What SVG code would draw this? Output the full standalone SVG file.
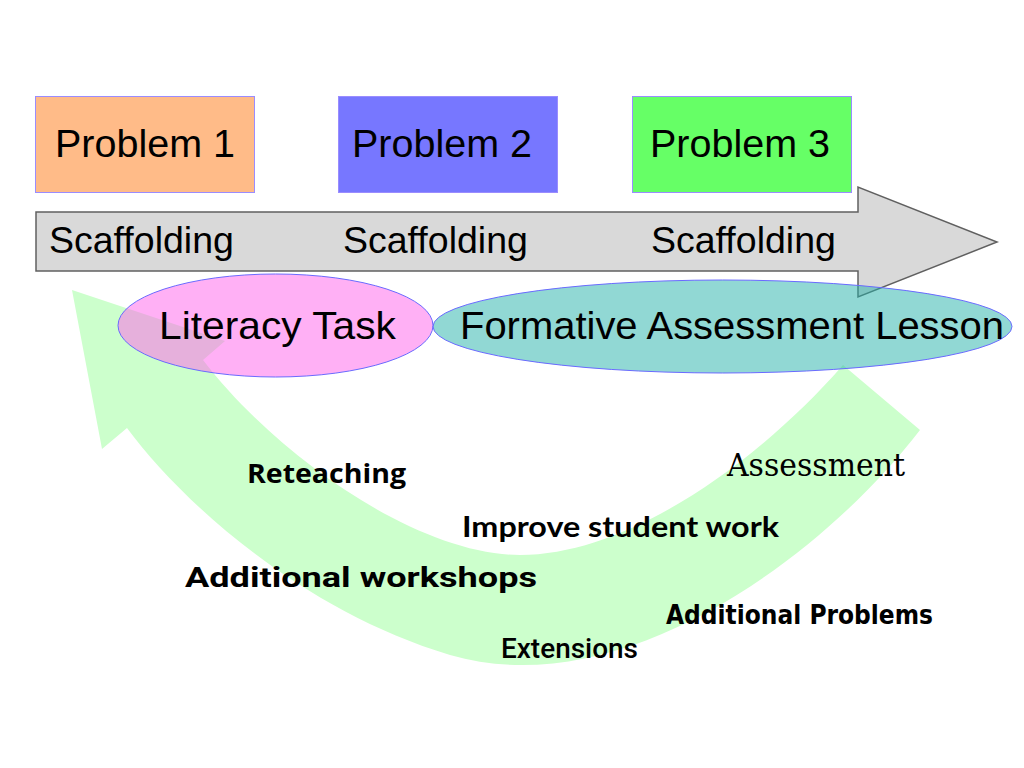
<svg xmlns="http://www.w3.org/2000/svg" width="1024" height="768" viewBox="0 0 1024 768">
<style>
.box{stroke:#9a8cff;stroke-width:1}
.arial{font-family:"Liberation Sans",Arial,sans-serif;fill:#000}
.big{font-size:39.5px}
.scaf{font-size:37.5px}
.ell{stroke:#6a6aff;stroke-width:1}
.lbl{fill:#000;font-weight:700}
</style>
<rect width="1024" height="768" fill="#ffffff"/>
<g id="connectors">
  <path id="timeline-arrow" d="M36,212 H858 V187 L997,242 L858,297 V271 H36 Z" fill="#d9d9d9" stroke="#606060" stroke-width="1.5"/>
  <path id="cycle-arrow" d="M127,428 C180,500 300,610 450,655 C620,705 820,560 920,430 L843,365 C760,460 630,555 520,555 C420,555 280,460 203,360 L225,341 L72,290 L102,449 Z" fill="#ccffcc"/>
</g>
<g id="problem1">
  <rect class="box" x="35.5" y="96.5" width="219" height="96" fill="#ffbb88"/>
  <text class="arial big" x="55" y="157">Problem 1</text>
</g>
<g id="problem2">
  <rect class="box" x="338.5" y="96.5" width="219" height="96" fill="#7777ff"/>
  <text class="arial big" x="352" y="157">Problem 2</text>
</g>
<g id="problem3">
  <rect class="box" x="632.5" y="96.5" width="219" height="96" fill="#66ff66"/>
  <text class="arial big" x="650" y="157">Problem 3</text>
</g>
<g id="scaffolding">
  <text class="arial scaf" x="49" y="253">Scaffolding</text>
  <text class="arial scaf" x="343" y="253">Scaffolding</text>
  <text class="arial scaf" x="651" y="253">Scaffolding</text>
</g>
<g id="literacy-task">
  <ellipse class="ell" cx="275.5" cy="325.5" rx="157.5" ry="51.5" fill="#ff61eb" fill-opacity="0.5"/>
  <text class="arial big" x="159" y="339" textLength="237" lengthAdjust="spacingAndGlyphs">Literacy Task</text>
</g>
<g id="formative-assessment-lesson">
  <ellipse class="ell" cx="722.5" cy="326.5" rx="289.5" ry="46.5" fill="#23b1a9" fill-opacity="0.5"/>
  <text class="arial big" x="460" y="339" textLength="544" lengthAdjust="spacingAndGlyphs">Formative Assessment Lesson</text>
</g>
<g id="cycle-labels">
  <text class="lbl" x="247" y="483" font-family="'Open Sans',sans-serif" font-size="27" textLength="159" lengthAdjust="spacingAndGlyphs">Reteaching</text>
  <text class="lbl" x="462" y="537" font-family="Lato,sans-serif" font-size="28" font-weight="900" textLength="317" lengthAdjust="spacingAndGlyphs">Improve student work</text>
  <text class="lbl" x="185" y="587" font-family="Roboto,sans-serif" font-size="28" font-weight="900" textLength="352" lengthAdjust="spacingAndGlyphs">Additional workshops</text>
  <text class="lbl" x="666" y="624" font-family="'DejaVu Sans',sans-serif" font-size="27" textLength="267" lengthAdjust="spacingAndGlyphs">Additional Problems</text>
  <text x="501" y="658" font-family="Roboto,sans-serif" font-size="27" font-weight="500" fill="#000" textLength="137" lengthAdjust="spacingAndGlyphs">Extensions</text>
  <text x="727" y="476" font-family="'DejaVu Serif',serif" font-size="32" font-weight="300" fill="#000" textLength="178" lengthAdjust="spacingAndGlyphs">Assessment</text>
</g>
</svg>
